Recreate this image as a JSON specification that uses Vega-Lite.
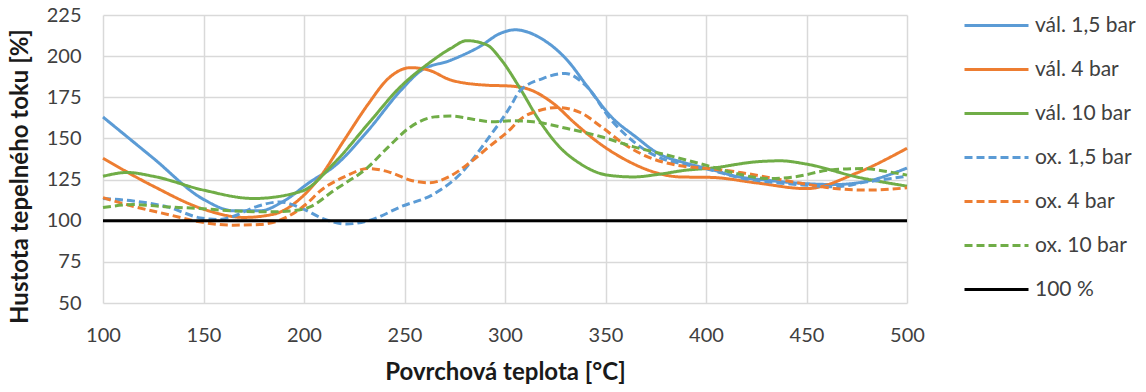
{
  "$schema": "https://vega.github.io/schema/vega-lite/v6.json",
  "width": 804,
  "height": 288,
  "autosize": {"type": "none"},
  "padding": {"left": 103, "top": 15, "right": 239, "bottom": 89},
  "background": "white",
  "config": {
    "view": {"stroke": null},
    "font": "Lato",
    "axis": {
      "labelFont": "Lato",
      "labelFontSize": 20,
      "labelColor": "#404040",
      "labelFlush": false,
      "titleFont": "Lato",
      "titleFontSize": 24,
      "titleFontWeight": "bold",
      "titleColor": "#1a1a1a",
      "gridColor": "#d9d9d9",
      "gridWidth": 1.5,
      "domain": false,
      "ticks": false
    }
  },
  "data": {
    "values": [
      {"s": "vál. 1,5 bar", "x": 100, "y": 163},
      {"s": "vál. 1,5 bar", "x": 125, "y": 138},
      {"s": "vál. 1,5 bar", "x": 150, "y": 113},
      {"s": "vál. 1,5 bar", "x": 165, "y": 106},
      {"s": "vál. 1,5 bar", "x": 178, "y": 106},
      {"s": "vál. 1,5 bar", "x": 190, "y": 112},
      {"s": "vál. 1,5 bar", "x": 203, "y": 123.5},
      {"s": "vál. 1,5 bar", "x": 215, "y": 133},
      {"s": "vál. 1,5 bar", "x": 232, "y": 155},
      {"s": "vál. 1,5 bar", "x": 248, "y": 179},
      {"s": "vál. 1,5 bar", "x": 258, "y": 191},
      {"s": "vál. 1,5 bar", "x": 273, "y": 197.5},
      {"s": "vál. 1,5 bar", "x": 287, "y": 205.5},
      {"s": "vál. 1,5 bar", "x": 298, "y": 214},
      {"s": "vál. 1,5 bar", "x": 305, "y": 216},
      {"s": "vál. 1,5 bar", "x": 319, "y": 210},
      {"s": "vál. 1,5 bar", "x": 331, "y": 197.5},
      {"s": "vál. 1,5 bar", "x": 341, "y": 181.5},
      {"s": "vál. 1,5 bar", "x": 353, "y": 163},
      {"s": "vál. 1,5 bar", "x": 365, "y": 151},
      {"s": "vál. 1,5 bar", "x": 376, "y": 141},
      {"s": "vál. 1,5 bar", "x": 390, "y": 135},
      {"s": "vál. 1,5 bar", "x": 403, "y": 131},
      {"s": "vál. 1,5 bar", "x": 415, "y": 127},
      {"s": "vál. 1,5 bar", "x": 431, "y": 124.5},
      {"s": "vál. 1,5 bar", "x": 450, "y": 122.5},
      {"s": "vál. 1,5 bar", "x": 464, "y": 122},
      {"s": "vál. 1,5 bar", "x": 480, "y": 124},
      {"s": "vál. 1,5 bar", "x": 500, "y": 132},

      {"s": "vál. 4 bar", "x": 100, "y": 138},
      {"s": "vál. 4 bar", "x": 125, "y": 121},
      {"s": "vál. 4 bar", "x": 150, "y": 107},
      {"s": "vál. 4 bar", "x": 170, "y": 102},
      {"s": "vál. 4 bar", "x": 185, "y": 104},
      {"s": "vál. 4 bar", "x": 199.5, "y": 115},
      {"s": "vál. 4 bar", "x": 207, "y": 125},
      {"s": "vál. 4 bar", "x": 220, "y": 149},
      {"s": "vál. 4 bar", "x": 232, "y": 171},
      {"s": "vál. 4 bar", "x": 242, "y": 186.5},
      {"s": "vál. 4 bar", "x": 253, "y": 193},
      {"s": "vál. 4 bar", "x": 262, "y": 191.5},
      {"s": "vál. 4 bar", "x": 273, "y": 185.5},
      {"s": "vál. 4 bar", "x": 290, "y": 182.4},
      {"s": "vál. 4 bar", "x": 303, "y": 181.8},
      {"s": "vál. 4 bar", "x": 312, "y": 179.8},
      {"s": "vál. 4 bar", "x": 324, "y": 171.3},
      {"s": "vál. 4 bar", "x": 335, "y": 159},
      {"s": "vál. 4 bar", "x": 347, "y": 147},
      {"s": "vál. 4 bar", "x": 360, "y": 137},
      {"s": "vál. 4 bar", "x": 373, "y": 130},
      {"s": "vál. 4 bar", "x": 387, "y": 126.6},
      {"s": "vál. 4 bar", "x": 403, "y": 126.3},
      {"s": "vál. 4 bar", "x": 425, "y": 123},
      {"s": "vál. 4 bar", "x": 450, "y": 119.5},
      {"s": "vál. 4 bar", "x": 475, "y": 129},
      {"s": "vál. 4 bar", "x": 500, "y": 144},

      {"s": "vál. 10 bar", "x": 100, "y": 127},
      {"s": "vál. 10 bar", "x": 112, "y": 129.3},
      {"s": "vál. 10 bar", "x": 125, "y": 127},
      {"s": "vál. 10 bar", "x": 150, "y": 118.6},
      {"s": "vál. 10 bar", "x": 175, "y": 113.5},
      {"s": "vál. 10 bar", "x": 199, "y": 118},
      {"s": "vál. 10 bar", "x": 215, "y": 135},
      {"s": "vál. 10 bar", "x": 232, "y": 159},
      {"s": "vál. 10 bar", "x": 248, "y": 181.4},
      {"s": "vál. 10 bar", "x": 262, "y": 195.6},
      {"s": "vál. 10 bar", "x": 273, "y": 204.7},
      {"s": "vál. 10 bar", "x": 281, "y": 209.4},
      {"s": "vál. 10 bar", "x": 291, "y": 206.8},
      {"s": "vál. 10 bar", "x": 298, "y": 198},
      {"s": "vál. 10 bar", "x": 307, "y": 181.4},
      {"s": "vál. 10 bar", "x": 317, "y": 161},
      {"s": "vál. 10 bar", "x": 327, "y": 145},
      {"s": "vál. 10 bar", "x": 337, "y": 135},
      {"s": "vál. 10 bar", "x": 351, "y": 127.7},
      {"s": "vál. 10 bar", "x": 364, "y": 126.6},
      {"s": "vál. 10 bar", "x": 377, "y": 128.3},
      {"s": "vál. 10 bar", "x": 390, "y": 130.7},
      {"s": "vál. 10 bar", "x": 403, "y": 132},
      {"s": "vál. 10 bar", "x": 425, "y": 135.8},
      {"s": "vál. 10 bar", "x": 437, "y": 136.4},
      {"s": "vál. 10 bar", "x": 450, "y": 134.4},
      {"s": "vál. 10 bar", "x": 475, "y": 126.6},
      {"s": "vál. 10 bar", "x": 500, "y": 121},

      {"s": "ox. 1,5 bar", "x": 100, "y": 113.5},
      {"s": "ox. 1,5 bar", "x": 115, "y": 112},
      {"s": "ox. 1,5 bar", "x": 132, "y": 108.4},
      {"s": "ox. 1,5 bar", "x": 148.5, "y": 101.7},
      {"s": "ox. 1,5 bar", "x": 157, "y": 100.7},
      {"s": "ox. 1,5 bar", "x": 165, "y": 102.7},
      {"s": "ox. 1,5 bar", "x": 175, "y": 108},
      {"s": "ox. 1,5 bar", "x": 188, "y": 111.4},
      {"s": "ox. 1,5 bar", "x": 199, "y": 107.5},
      {"s": "ox. 1,5 bar", "x": 209, "y": 101.5},
      {"s": "ox. 1,5 bar", "x": 221, "y": 98},
      {"s": "ox. 1,5 bar", "x": 233, "y": 100.3},
      {"s": "ox. 1,5 bar", "x": 248, "y": 108.4},
      {"s": "ox. 1,5 bar", "x": 265, "y": 116.5},
      {"s": "ox. 1,5 bar", "x": 278, "y": 128.7},
      {"s": "ox. 1,5 bar", "x": 291, "y": 149},
      {"s": "ox. 1,5 bar", "x": 303, "y": 170},
      {"s": "ox. 1,5 bar", "x": 307, "y": 178.4},
      {"s": "ox. 1,5 bar", "x": 319, "y": 186.5},
      {"s": "ox. 1,5 bar", "x": 330, "y": 189.5},
      {"s": "ox. 1,5 bar", "x": 340, "y": 182.4},
      {"s": "ox. 1,5 bar", "x": 353, "y": 161},
      {"s": "ox. 1,5 bar", "x": 365, "y": 147},
      {"s": "ox. 1,5 bar", "x": 376, "y": 138.8},
      {"s": "ox. 1,5 bar", "x": 391, "y": 133.8},
      {"s": "ox. 1,5 bar", "x": 403, "y": 130.7},
      {"s": "ox. 1,5 bar", "x": 415, "y": 126.6},
      {"s": "ox. 1,5 bar", "x": 431, "y": 123.6},
      {"s": "ox. 1,5 bar", "x": 450, "y": 121.6},
      {"s": "ox. 1,5 bar", "x": 464, "y": 120.6},
      {"s": "ox. 1,5 bar", "x": 480, "y": 123.6},
      {"s": "ox. 1,5 bar", "x": 500, "y": 127},

      {"s": "ox. 4 bar", "x": 100, "y": 114},
      {"s": "ox. 4 bar", "x": 113, "y": 109.4},
      {"s": "ox. 4 bar", "x": 134, "y": 103.3},
      {"s": "ox. 4 bar", "x": 148, "y": 99.3},
      {"s": "ox. 4 bar", "x": 165, "y": 97.3},
      {"s": "ox. 4 bar", "x": 178, "y": 97.7},
      {"s": "ox. 4 bar", "x": 188, "y": 100.3},
      {"s": "ox. 4 bar", "x": 201, "y": 110},
      {"s": "ox. 4 bar", "x": 208.5, "y": 118.5},
      {"s": "ox. 4 bar", "x": 220, "y": 126.6},
      {"s": "ox. 4 bar", "x": 232, "y": 131.7},
      {"s": "ox. 4 bar", "x": 242, "y": 129.7},
      {"s": "ox. 4 bar", "x": 253, "y": 124.6},
      {"s": "ox. 4 bar", "x": 262, "y": 123},
      {"s": "ox. 4 bar", "x": 272, "y": 126.6},
      {"s": "ox. 4 bar", "x": 282, "y": 134.8},
      {"s": "ox. 4 bar", "x": 292, "y": 144.9},
      {"s": "ox. 4 bar", "x": 303, "y": 156},
      {"s": "ox. 4 bar", "x": 307, "y": 161},
      {"s": "ox. 4 bar", "x": 317, "y": 167},
      {"s": "ox. 4 bar", "x": 326, "y": 168.8},
      {"s": "ox. 4 bar", "x": 337, "y": 166},
      {"s": "ox. 4 bar", "x": 348, "y": 157},
      {"s": "ox. 4 bar", "x": 360, "y": 146},
      {"s": "ox. 4 bar", "x": 371, "y": 138.8},
      {"s": "ox. 4 bar", "x": 385, "y": 133.8},
      {"s": "ox. 4 bar", "x": 401, "y": 131.7},
      {"s": "ox. 4 bar", "x": 415, "y": 129.7},
      {"s": "ox. 4 bar", "x": 431, "y": 126.3},
      {"s": "ox. 4 bar", "x": 448, "y": 122.6},
      {"s": "ox. 4 bar", "x": 464, "y": 119.6},
      {"s": "ox. 4 bar", "x": 481, "y": 118.6},
      {"s": "ox. 4 bar", "x": 500, "y": 120},

      {"s": "ox. 10 bar", "x": 100, "y": 108},
      {"s": "ox. 10 bar", "x": 115, "y": 109.8},
      {"s": "ox. 10 bar", "x": 132, "y": 108.4},
      {"s": "ox. 10 bar", "x": 148, "y": 107.4},
      {"s": "ox. 10 bar", "x": 165, "y": 106},
      {"s": "ox. 10 bar", "x": 182, "y": 105.4},
      {"s": "ox. 10 bar", "x": 194, "y": 106},
      {"s": "ox. 10 bar", "x": 203, "y": 108.4},
      {"s": "ox. 10 bar", "x": 215, "y": 118.5},
      {"s": "ox. 10 bar", "x": 232, "y": 132.7},
      {"s": "ox. 10 bar", "x": 242, "y": 144.9},
      {"s": "ox. 10 bar", "x": 253, "y": 157},
      {"s": "ox. 10 bar", "x": 265, "y": 163.1},
      {"s": "ox. 10 bar", "x": 273, "y": 163.6},
      {"s": "ox. 10 bar", "x": 284, "y": 161.7},
      {"s": "ox. 10 bar", "x": 294, "y": 160.1},
      {"s": "ox. 10 bar", "x": 303, "y": 160.7},
      {"s": "ox. 10 bar", "x": 314, "y": 160.1},
      {"s": "ox. 10 bar", "x": 331, "y": 156},
      {"s": "ox. 10 bar", "x": 348, "y": 151},
      {"s": "ox. 10 bar", "x": 364, "y": 144.9},
      {"s": "ox. 10 bar", "x": 381, "y": 139.8},
      {"s": "ox. 10 bar", "x": 403, "y": 132.7},
      {"s": "ox. 10 bar", "x": 415, "y": 128.7},
      {"s": "ox. 10 bar", "x": 431, "y": 125.6},
      {"s": "ox. 10 bar", "x": 444, "y": 126.6},
      {"s": "ox. 10 bar", "x": 461, "y": 130.7},
      {"s": "ox. 10 bar", "x": 478, "y": 131.7},
      {"s": "ox. 10 bar", "x": 491, "y": 129.7},
      {"s": "ox. 10 bar", "x": 500, "y": 127.7},

      {"s": "100 %", "x": 100, "y": 100},
      {"s": "100 %", "x": 500, "y": 100}
    ]
  },
  "mark": {"type": "line", "interpolate": "monotone", "strokeWidth": 3},
  "encoding": {
    "x": {
      "field": "x",
      "type": "quantitative",
      "scale": {"domain": [100, 500], "nice": false, "zero": false},
      "axis": {
        "values": [100, 150, 200, 250, 300, 350, 400, 450, 500],
        "title": "Povrchová teplota [°C]",
        "labelPadding": 22,
        "titlePadding": 15
      }
    },
    "y": {
      "field": "y",
      "type": "quantitative",
      "scale": {"domain": [50, 225], "nice": false, "zero": false},
      "axis": {
        "values": [50, 75, 100, 125, 150, 175, 200, 225],
        "title": "Hustota tepelného toku [%]",
        "labelPadding": 22,
        "titleX": -71,
        "titleY": 161
      }
    },
    "color": {
      "field": "s",
      "type": "nominal",
      "scale": {
        "domain": ["vál. 1,5 bar", "vál. 4 bar", "vál. 10 bar", "ox. 1,5 bar", "ox. 4 bar", "ox. 10 bar", "100 %"],
        "range": ["#5B9BD5", "#ED7D31", "#70AD47", "#5B9BD5", "#ED7D31", "#70AD47", "#000000"]
      },
      "legend": {
        "title": null,
        "orient": "none",
        "legendX": 860,
        "legendY": -23,
        "padding": 0,
        "symbolType": "stroke",
        "symbolSize": 4096,
        "symbolStrokeWidth": 3,
        "labelFont": "Lato",
        "labelFontSize": 21,
        "labelColor": "#404040",
        "labelOffset": 5,
        "labelLimit": 200,
        "rowPadding": 0
      }
    },
    "strokeDash": {
      "field": "s",
      "type": "nominal",
      "scale": {
        "domain": ["vál. 1,5 bar", "vál. 4 bar", "vál. 10 bar", "ox. 1,5 bar", "ox. 4 bar", "ox. 10 bar", "100 %"],
        "range": [[1, 0], [1, 0], [1, 0], [8, 4], [8, 4], [8, 4], [1, 0]]
      },
      "legend": null
    },
    "order": {"field": "x", "type": "quantitative"}
  }
}
